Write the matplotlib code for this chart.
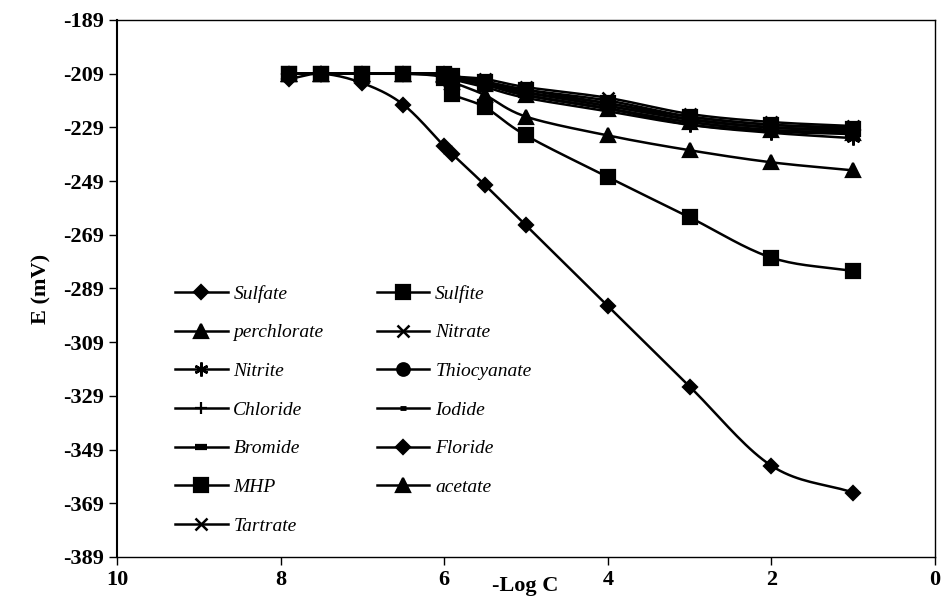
import matplotlib
matplotlib.use('Agg')
import matplotlib.pyplot as plt
import numpy as np

plt.rcParams['font.family'] = ['Liberation Serif', 'DejaVu Serif']
plt.rcParams['axes.unicode_minus'] = False

# -Log C of the standards
log_c = [7.9, 7.5, 7.0, 6.5, 6.0, 5.9, 5.5, 5.0, 4.0, 3.0, 2.0, 1.0]

# potential readings (mV) per anion
sulfate     = [-211, -209, -212.5, -220.5, -236, -239, -250.5, -265.5, -295.5, -325.5, -355, -365]
sulfite     = [-209, -209, -209, -209, -209, -210, -212, -215, -220, -225, -228, -229.5]
perchlorate = [-209, -209, -209, -209, -209.5, -212, -217, -225, -232, -237.5, -242, -245]
nitrate     = [-209, -209, -209, -209, -209, -210, -211, -214, -218, -224, -227, -228.5]
nitrite     = [-209, -209, -209, -209, -209, -210, -213, -217, -222, -228, -231, -233]
thiocyanate = [-209, -209, -209, -209, -209, -210, -212, -216, -221, -226, -229, -230]
chloride    = [-209, -209, -209, -209, -209, -210, -212, -216, -220, -226, -229, -230.5]
iodide      = [-209, -209, -209, -209, -209, -210, -213, -217, -222, -227, -230, -231]
bromide     = [-209, -209, -209, -209, -209, -211, -214, -218, -223, -228, -230.5, -231.5]
floride     = [-209, -209, -209, -209, -209, -210, -213, -216, -221, -226, -229, -230]
mhp         = [-209, -209, -209, -209, -210.5, -216.5, -221.5, -232, -247.5, -262.5, -277.5, -282.5]
acetate     = [-209, -209, -209, -209, -209, -211, -213, -217, -222, -227, -230, -231]
tartrate    = [-209, -209, -209, -209, -209, -210, -212, -215, -219, -225, -228, -229]

# name, values, marker, size, edge width
series = [
    ('Sulfate', sulfate, 'D', 7, 1.6),
    ('Sulfite', sulfite, 's', 10, 1.6),
    ('perchlorate', perchlorate, '^', 10, 1.6),
    ('Nitrate', nitrate, 'x', 8, 1.8),
    ('Nitrite', nitrite, (6, 2, 0), 10, 1.8),
    ('Thiocyanate', thiocyanate, 'o', 9, 1.6),
    ('Chloride', chloride, '+', 9, 1.6),
    ('Iodide', iodide, '_', 5, 3.5),
    ('Bromide', bromide, '_', 8, 4.5),
    ('Floride', floride, 'D', 7, 1.6),
    ('MHP', mhp, 's', 10, 1.6),
    ('acetate', acetate, '^', 10, 1.6),
    ('Tartrate', tartrate, 'x', 8, 1.8),
]


def smooth(x, y, n=20):
    # Catmull-Rom curve through the points, like Excel's smoothed line
    x = np.asarray(x, float)
    y = np.asarray(y, float)
    px = np.concatenate([[2 * x[0] - x[1]], x, [2 * x[-1] - x[-2]]])
    py = np.concatenate([[2 * y[0] - y[1]], y, [2 * y[-1] - y[-2]]])
    t = np.linspace(0, 1, n)
    xs, ys = [], []
    for i in range(1, len(px) - 2):
        for p, out in ((px, xs), (py, ys)):
            p0, p1, p2, p3 = p[i - 1], p[i], p[i + 1], p[i + 2]
            out.extend(0.5 * (2 * p1 + (-p0 + p2) * t
                              + (2 * p0 - 5 * p1 + 4 * p2 - p3) * t ** 2
                              + (-p0 + 3 * p1 - 3 * p2 + p3) * t ** 3))
    return xs, ys


fig = plt.figure(figsize=(9.42, 6.04), dpi=100)
ax = fig.add_axes([117 / 942, 47 / 604, 818 / 942, 537 / 604])

handles = []
for name, vals, mk, ms, mew in series:
    sx, sy = smooth(log_c, vals)
    ax.plot(sx, sy, color='black', lw=1.8)
    ax.plot(log_c, vals, linestyle='none', marker=mk, ms=ms, color='black', mew=mew)
    h, = ax.plot([], [], color='black', lw=1.8, marker=mk, ms=ms, mew=mew)
    handles.append((h, name))

ax.set_xlim(10, 0)
ax.set_ylim(-389, -189)
ax.set_xticks(np.arange(10, -1, -2))
ax.set_yticks(np.arange(-389, -188, 20))
ax.tick_params(direction='out', length=6, width=1, labelsize=16)
for lab in ax.get_xticklabels() + ax.get_yticklabels():
    lab.set_fontweight('bold')
for sp in ax.spines.values():
    sp.set_linewidth(1)
ax.spines['left'].set_linewidth(1.5)

ax.set_ylabel('E (mV)', fontsize=16, fontweight='bold', labelpad=8)
ax.set_xlabel('-Log C', fontsize=16, fontweight='bold')
ax.xaxis.set_label_coords(0.499, -0.035)

# legend is row-major in the original; matplotlib fills columns first
order = list(range(0, 13, 2)) + list(range(1, 13, 2))
leg = ax.legend([handles[i][0] for i in order], [handles[i][1] for i in order],
                ncol=2, frameon=False, loc='upper left',
                bbox_to_anchor=(175 / 942, 1 - 285 / 604), bbox_transform=fig.transFigure,
                prop={'style': 'italic', 'size': 14}, numpoints=1,
                handlelength=2.7, handletextpad=0.3, columnspacing=2.75,
                labelspacing=1.08, borderpad=0, borderaxespad=0)

fig.savefig('out.png', dpi=100)
